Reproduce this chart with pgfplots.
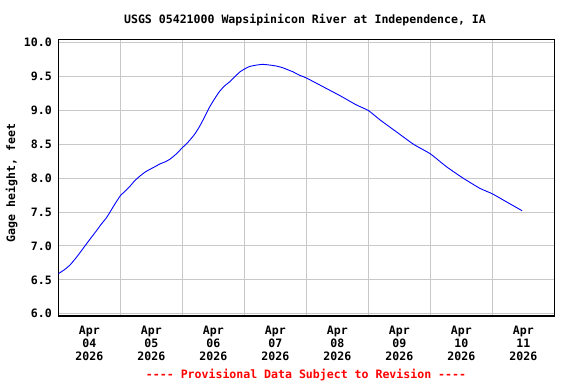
\documentclass[border=0pt]{standalone}
\usepackage{fontspec}
\setmainfont{DejaVu Sans Mono}[Ligatures=TeXOff]
\usepackage{pgfplots}
\pgfplotsset{compat=1.18}
\definecolor{gridgray}{RGB}{200,200,200}
\newcommand{\tf}{\fontsize{11.6}{12.6}\selectfont\bfseries}
\begin{document}
\begin{tikzpicture}
\begin{axis}[
  at={(58.3bp,68bp)}, anchor=south west,
  scale only axis, width=496bp, height=276.7bp,
  xmin=0, xmax=8, ymin=5.966, ymax=10.05,
  xtick={0.5,1.5,2.5,3.5,4.5,5.5,6.5,7.5},
  xticklabels={{Apr\\04\\2026},{Apr\\05\\2026},{Apr\\06\\2026},{Apr\\07\\2026},{Apr\\08\\2026},{Apr\\09\\2026},{Apr\\10\\2026},{Apr\\11\\2026}},
  minor xtick={1,2,3,4,5,6,7},
  ytick={6,6.5,...,10},
  xmajorgrids=false, xminorgrids=true, ymajorgrids=true,
  grid style={gridgray, line width=1bp},
  minor grid style={gridgray, line width=1bp},
  major tick length=0pt, minor tick length=0pt,
  axis line style={black, line width=1.2bp},
  /pgf/number format/assume math mode=true,
  yticklabel={\pgfmathprintnumber[fixed,fixed zerofill,precision=1]{\tick}},
  tick label style={font=\tf},
  xticklabel style={align=center, yshift=-7bp},
  yticklabel style={xshift=-3bp},
]
\addplot[color={rgb,255:red,0;green,0;blue,255}, line width=0.9bp, smooth, tension=0.3] coordinates {
(0.00,6.59) (0.10,6.65) (0.19,6.72) (0.30,6.84) (0.43,7.00) (0.52,7.11)
(0.62,7.23) (0.70,7.33) (0.78,7.42) (0.90,7.60) (1.00,7.74) (1.08,7.81)
(1.155,7.88) (1.23,7.96) (1.315,8.03) (1.40,8.09) (1.476,8.13) (1.56,8.17)
(1.637,8.21) (1.72,8.24) (1.80,8.28) (1.906,8.36) (2.00,8.45) (2.06,8.50)
(2.12,8.56) (2.20,8.65) (2.27,8.75) (2.335,8.86) (2.44,9.05) (2.52,9.17) (2.60,9.28)
(2.68,9.36) (2.76,9.42) (2.85,9.50) (2.93,9.57) (3.00,9.61) (3.09,9.65)
(3.20,9.67) (3.30,9.68) (3.41,9.67) (3.52,9.655) (3.62,9.63) (3.73,9.59)
(3.785,9.57) (3.89,9.52) (4.00,9.48) (4.27,9.35) (4.54,9.22) (4.81,9.08)
(5.00,9.00) (5.19,8.86) (5.46,8.68) (5.73,8.50) (6.00,8.36) (6.26,8.17)
(6.53,8.00) (6.80,7.85) (7.00,7.77) (7.23,7.65) (7.48,7.52)
};
\end{axis}
\node[font=\tf, anchor=center] at (305bp,363.5bp) {USGS 05421000 Wapsipinicon River at Independence, IA};
\node[font=\tf, anchor=center, rotate=90] at (11.5bp,201bp) {Gage height, feet};
\node[font=\tf, anchor=center, text=red] at (306bp,9bp) {---- Provisional Data Subject to Revision ----};
\pgfresetboundingbox
\path (0,0) rectangle (576bp,384bp);
\end{tikzpicture}
\end{document}
